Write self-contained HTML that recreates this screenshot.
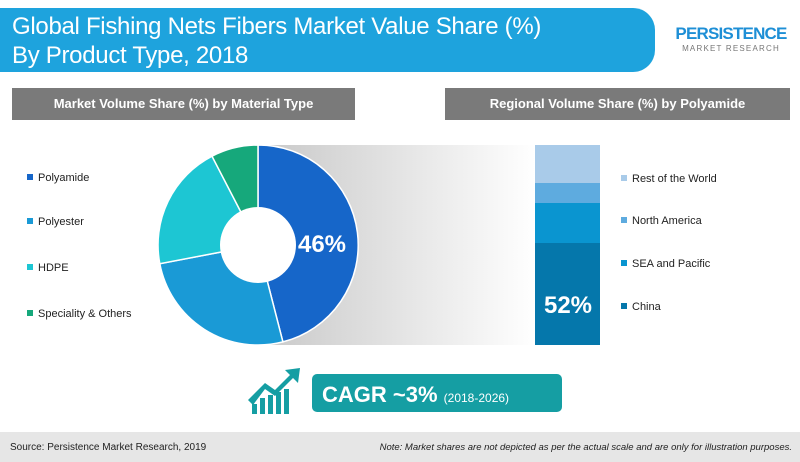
<!DOCTYPE html>
<html><head><style>
body{margin:0;width:800px;height:462px;background:#fff;position:relative;overflow:hidden;font-family:"Liberation Sans",sans-serif}
.a{position:absolute}
.hdr{left:0;top:8px;width:655px;height:64px;background:#1ea3dd;border-radius:0 22px 22px 0;color:#fff;font-size:24px;line-height:29px;padding:4px 0 0 12px;box-sizing:border-box;letter-spacing:-0.3px}
.gb{top:88px;height:32px;background:#7a7a7a;color:#fff;font-weight:bold;font-size:13px;line-height:32px;text-align:center}
.lg{font-size:11px;color:#222}
.lg i{display:inline-block;width:6px;height:6px;margin-right:5px;vertical-align:1px}
</style></head><body>
<div class="a hdr">Global Fishing Nets Fibers Market Value Share (%)<br>By Product Type, 2018</div>
<div class="a" style="left:672px;top:24px;width:118px;text-align:center">
<div style="color:#1e8fd6;font-weight:bold;font-size:17px;letter-spacing:-0.8px">PERSISTENCE</div>
<div style="color:#777;font-size:8px;letter-spacing:1.2px">MARKET RESEARCH</div></div>
<div class="a gb" style="left:12px;width:343px">Market Volume Share (%) by Material Type</div>
<div class="a gb" style="left:445px;width:345px">Regional Volume Share (%) by Polyamide</div>
<div class="a" style="left:258px;top:145px;width:278px;height:200px;background:linear-gradient(90deg,#c8c8c8,#fff)"></div>
<svg class="a" style="left:0;top:0" width="800" height="462">
<g transform="translate(258,245)" stroke="#fff" stroke-width="1.5">
<path d="M0,-100 A100,100 0 0 1 24.9,96.9 L0,0Z" fill="#1666c9"/>
<path d="M24.9,96.9 A100,100 0 0 1 -98.2,18.7 L0,0Z" fill="#1a9ad6"/>
<path d="M-98.2,18.7 A100,100 0 0 1 -46,-88.8 L0,0Z" fill="#1dc6d3"/>
<path d="M-46,-88.8 A100,100 0 0 1 0,-100 L0,0Z" fill="#16a87b"/>
<circle r="38" fill="#fff" stroke="none"/>
</g>
<text x="322" y="252" fill="#fff" font-size="24" font-weight="bold" text-anchor="middle" font-family="Liberation Sans">46%</text>
<rect x="535" y="145" width="65" height="38" fill="#a9cbe9"/>
<rect x="535" y="183" width="65" height="20" fill="#5eabdf"/>
<rect x="535" y="203" width="65" height="40" fill="#0a95d0"/>
<rect x="535" y="243" width="65" height="102" fill="#0577ab"/>
<text x="568" y="313" fill="#fff" font-size="24" font-weight="bold" text-anchor="middle" font-family="Liberation Sans">52%</text>
<g fill="#159ea3">
<rect x="252" y="404" width="5" height="10"/><rect x="260" y="398" width="5" height="16"/><rect x="268" y="395" width="5" height="19"/><rect x="276" y="392" width="5" height="22"/><rect x="284" y="389" width="5" height="25"/>
<path d="M248,400 L265,383 L275,390 L290,375 L285,370 L300,368 L298,383 L293,378 L275,396 L265,389 L253,405Z"/>
</g>
<rect x="312" y="374" width="250" height="38" rx="5" fill="#159ea3"/>
<text x="322" y="402" fill="#fff" font-size="22" font-weight="bold" font-family="Liberation Sans">CAGR ~3% <tspan font-size="12" font-weight="normal">(2018-2026)</tspan></text>
<rect x="0" y="432" width="800" height="30" fill="#e6e6e6"/>
<text x="10" y="450" font-size="10" fill="#222" font-family="Liberation Sans">Source: Persistence Market Research, 2019</text>
<text x="792" y="450" font-size="9.5" fill="#222" font-style="italic" text-anchor="end" font-family="Liberation Sans">Note: Market shares are not depicted as per the actual scale and are only for illustration purposes.</text>
</svg>
<div class="a lg" style="left:27px;top:172px"><i style="background:#1666c9"></i>Polyamide</div>
<div class="a lg" style="left:27px;top:216px"><i style="background:#1a9ad6"></i>Polyester</div>
<div class="a lg" style="left:27px;top:262px"><i style="background:#1dc6d3"></i>HDPE</div>
<div class="a lg" style="left:27px;top:308px"><i style="background:#16a87b"></i>Speciality &amp; Others</div>
<div class="a lg" style="left:621px;top:173px"><i style="background:#a9cbe9"></i>Rest of the World</div>
<div class="a lg" style="left:621px;top:215px"><i style="background:#5eabdf"></i>North America</div>
<div class="a lg" style="left:621px;top:258px"><i style="background:#0a95d0"></i>SEA and Pacific</div>
<div class="a lg" style="left:621px;top:301px"><i style="background:#0577ab"></i>China</div>
</body></html>
